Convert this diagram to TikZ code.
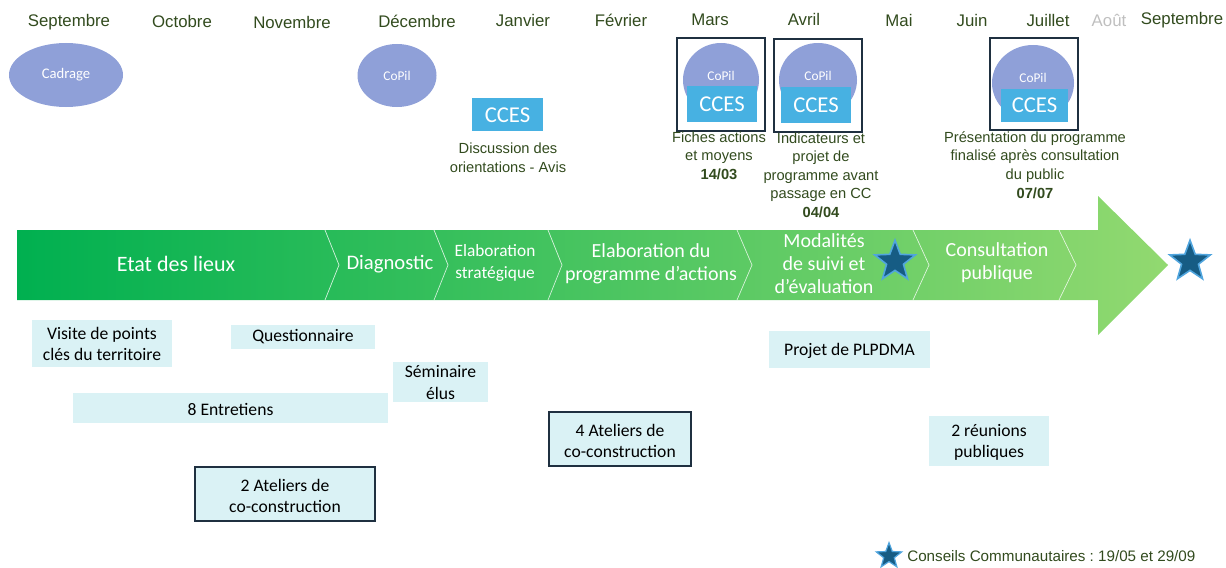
\documentclass[tikz,border=0pt]{standalone}
\usepackage{fontspec}
\setmainfont{Liberation Sans}
\newfontfamily\calibri{Carlito}
\usepackage{tikz}
\usetikzlibrary{shapes.geometric}
\frenchspacing

\definecolor{monthgreen}{RGB}{50,75,30}
\definecolor{copilblue}{RGB}{143,160,216}
\definecolor{ccesblue}{RGB}{71,177,226}
\definecolor{actfill}{RGB}{218,242,245}
\definecolor{framenavy}{RGB}{31,48,64}
\definecolor{stardark}{RGB}{22,92,132}
\definecolor{starlight}{RGB}{80,165,222}
\definecolor{arrowleft}{RGB}{0,176,80}
\definecolor{arrowright}{RGB}{146,217,112}

\begin{document}
\begin{tikzpicture}[x=0.75pt,y=0.75pt,yscale=-1,
  month/.style={text=monthgreen,inner sep=0.75pt,font=\fontsize{12.6}{15}\selectfont},
  note/.style={text=monthgreen,inner sep=0.75pt,align=center,font=\fontsize{11}{13.9}\selectfont},
  phase/.style={text=white,inner sep=0.75pt,align=center},
  acttext/.style={inner sep=0.75pt,align=center,font=\calibri\fontsize{13.2}{15.8}\selectfont},
  ccestext/.style={text=white,inner sep=0.75pt,font=\calibri\fontsize{17}{20}\selectfont},
  copiltext/.style={text=white,inner sep=0.75pt,font=\calibri\fontsize{10}{12}\selectfont},
  chev/.style={draw=white,draw opacity=0.8,line width=0.5pt},
  cc/.style={star,star points=5,star point ratio=2.4,fill=stardark,draw=starlight,line width=1.2pt,inner sep=0pt}
]

\useasboundingbox (0,0) rectangle (1226,567);

% Months
\node[month] (sep1) at (69,22) {Septembre};
\node[month] (oct) at (182,21) {Octobre};
\node[month] (nov) at (292,22) {Novembre};
\node[month] (dec) at (417,21) {Décembre};
\node[month] (jan) at (523,20) {Janvier};
\node[month] (fev) at (621,20) {Février};
\node[month] (mar) at (710,20) {Mars};
\node[month] (avr) at (804,19) {Avril};
\node[month] (mai) at (899,20) {Mai};
\node[month] (jui) at (972,20) {Juin};
\node[month] (jul) at (1048,20) {Juillet};
\node[month,text=black!25] (aou) at (1109,20) {Août};
\node[month] (sep2) at (1182,20) {Septembre};

% Cadrage and first CoPil
\fill[copilblue] (66,75) ellipse [x radius=57, y radius=32];
\node[copiltext,font=\calibri\fontsize{11}{13}\selectfont] (cadrage) at (66,75) {Cadrage};
\fill[copilblue] (397,75.5) ellipse [x radius=39.5, y radius=31.5];
\node[copiltext] (copil1) at (397,76) {CoPil};

% CCES janvier
\fill[ccesblue] (472,98) rectangle (543,131);
\node[ccestext] (cces1) at (507.5,115) {CCES};
\node[note] (avis) at (508,157.5) {Discussion des\\orientations - Avis};

% CoPil + CCES mars
\draw[framenavy,line width=1pt] (677,38) rectangle (765,131);
\fill[copilblue] (721,80) ellipse [x radius=38, y radius=37];
\node[copiltext] (copil2) at (721,76) {CoPil};
\fill[ccesblue] (687,86) rectangle (757,122);
\node[ccestext] (cces2) at (722,104) {CCES};
\node[note] (fiches) at (719,155.5) {Fiches actions\\et moyens\\\textbf{14/03}};

% CoPil + CCES avril
\draw[framenavy,line width=1pt] (774,39) rectangle (862,132);
\fill[copilblue] (818,80) ellipse [x radius=39, y radius=37];
\node[copiltext] (copil3) at (818,76) {CoPil};
\fill[ccesblue] (781,87) rectangle (851,123);
\node[ccestext] (cces3) at (816,105) {CCES};
\node[note] (indic) at (821,175) {Indicateurs et\\projet de\\programme avant\\passage en CC\\\textbf{04/04}};

% CoPil + CCES juillet
\draw[framenavy,line width=1pt] (990,38) rectangle (1078,130);
\fill[copilblue] (1033,83) ellipse [x radius=41, y radius=38];
\node[copiltext] (copil4) at (1033,78) {CoPil};
\fill[ccesblue] (1001,89) rectangle (1068,122);
\node[ccestext] (cces4) at (1034.5,105.5) {CCES};
\node[note] (present) at (1035,165) {Présentation du programme\\finalisé après consultation\\du public\\\textbf{07/07}};

% Big arrow
\shade[left color=arrowleft,right color=arrowright] (17,230) -- (1098,230) -- (1098,196) -- (1168,265) -- (1098,335) -- (1098,300) -- (17,300) -- cycle;
\draw[chev] (325,230) -- (339,265) -- (325,300);
\draw[chev] (434,230) -- (448,265) -- (434,300);
\draw[chev] (548,230) -- (562,265) -- (548,300);
\draw[chev] (737,230) -- (752,265) -- (737,300);
\draw[chev] (913,230) -- (929,265) -- (913,300);
\draw[chev] (1059,230) -- (1076,265) -- (1059,300);

% Phases
\node[phase,font=\calibri\fontsize{16.5}{19}\selectfont] (etat) at (176,264) {Etat des lieux};
\node[phase,font=\calibri\fontsize{15.5}{18}\selectfont] (diag) at (390,264) {Diagnostic};
\node[phase,font=\calibri\fontsize{13}{16.5}\selectfont] (strat) at (495,263) {Elaboration\\stratégique};
\node[phase,font=\calibri\fontsize{15}{17.3}\selectfont] (progr) at (651,263.5) {Elaboration du\\programme d’actions};
\node[phase,font=\calibri\fontsize{15}{17.3}\selectfont] (suivi) at (824,264) {Modalités\\de suivi et\\d’évaluation};
\node[phase,font=\calibri\fontsize{15}{17.3}\selectfont] (consult) at (997,262.5) {Consultation\\publique};

% Stars
\node[cc,minimum size=32pt] (star1) at (895,261.5) {};
\node[cc,minimum size=32pt] (star2) at (1190,261.5) {};

% Activities
\fill[actfill] (32,320) rectangle (172,367);
\node[acttext] (visite) at (102,343.5) {Visite de points\\clés du territoire};
\fill[actfill] (231,325) rectangle (375,349);
\node[acttext] (quest) at (303,337) {Questionnaire};
\fill[actfill] (393,362) rectangle (488,402);
\node[acttext] (semin) at (440.5,382.5) {Séminaire\\élus};
\fill[actfill] (73,393) rectangle (388,423);
\node[acttext] (entret) at (230.5,409) {8 Entretiens};
\filldraw[fill=actfill,draw=framenavy,line width=0.8pt] (195,467) rectangle (375,521);
\node[acttext] (atel2) at (285,495.5) {2 Ateliers de\\co-construction};
\filldraw[fill=actfill,draw=framenavy,line width=0.8pt] (549,412) rectangle (691,466);
\node[acttext] (atel4) at (620,441) {4 Ateliers de\\co-construction};
\fill[actfill] (769,331) rectangle (930,368);
\node[acttext] (plpdma) at (849.5,351) {Projet de PLPDMA};
\fill[actfill] (929,416) rectangle (1049,466);
\node[acttext] (reun) at (989,442.5) {2 réunions\\publiques};

% Legend
\node[cc,minimum size=20pt,line width=0.9pt] (star3) at (889,556) {};
\node[note,anchor=west,font=\fontsize{11.4}{13}\selectfont] (legend) at (906,556) {Conseils Communautaires : 19/05 et 29/09};

\end{tikzpicture}
\end{document}
